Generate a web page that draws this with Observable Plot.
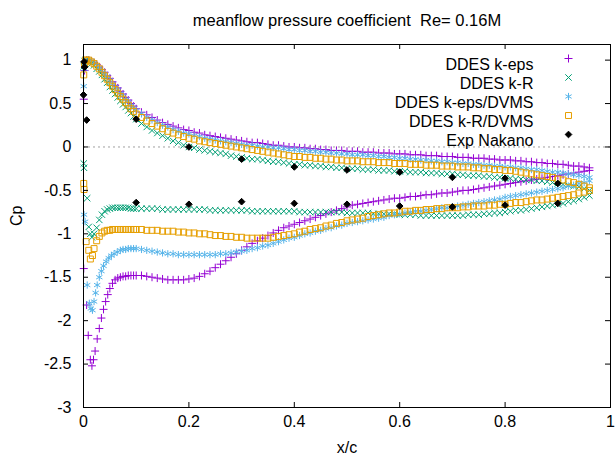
<!DOCTYPE html>
<html><head><meta charset="utf-8">
<script src="https://cdn.jsdelivr.net/npm/d3@7"></script>
<script src="https://cdn.jsdelivr.net/npm/@observablehq/plot@0.6"></script>
<style>body{margin:0;background:#fff} svg text{white-space:pre}</style>
</head><body><div id="chart"></div>
<script>
const title = "meanflow pressure coefficient  Re= 0.16M";
const seriesNames = ["DDES k-eps", "DDES k-R", "DDES k-eps/DVMS", "DDES k-R/DVMS", "Exp Nakano"];
const xTicks = [0, 0.2, 0.4, 0.6, 0.8, 1];
const yTicks = [-3, -2.5, -2, -1.5, -1, -0.5, 0, 0.5, 1];

const xMid = [0.10,0.11,0.12,0.13,0.14,0.15,0.16,0.17,0.18,0.19,
0.20,0.21,0.22,0.23,0.24,0.25,0.26,0.27,0.28,0.29,
0.30,0.31,0.32,0.33,0.34,0.35,0.36,0.37,0.38,0.39,
0.40,0.41,0.42,0.43,0.44,0.45,0.46,0.47,0.48,0.49,
0.50,0.51,0.52,0.53,0.54,0.55,0.56,0.57,0.58,0.59,
0.60,0.61,0.62,0.63,0.64,0.65,0.66,0.67,0.68,0.69,
0.70,0.71,0.72,0.73,0.74,0.75,0.76,0.77,0.78,0.79,
0.80,0.81,0.82,0.83,0.84,0.85,0.86,0.87,0.88,0.89,
0.90,0.91,0.92,0.93,0.94,0.95,0.96];
const xUpper = [0.006,0.01,0.015,0.02,0.025,0.03,0.035,0.04,0.045,0.05,0.055,0.06,0.065,0.07,0.075,0.08,0.085,0.09,0.095, ...xMid];
const xLower = [0.07,0.075,0.08,0.085,0.09,0.095, ...xMid];

// DDES k-eps
const kepsUpper = [1.00,1.00,0.99,0.97,0.95,0.92,0.89,0.86,0.82,0.79,0.75,0.71,0.68,0.64,0.61,0.57,0.54,0.50,0.47,
0.44,0.40,0.37,0.34,0.31,0.28,0.26,0.24,0.22,0.20,
0.19,0.17,0.16,0.14,0.13,0.12,0.11,0.10,0.09,0.08,
0.07,0.06,0.05,0.05,0.04,0.03,0.02,0.02,0.01,0.00,
0.00,-0.01,-0.01,-0.02,-0.02,-0.03,-0.03,-0.04,-0.04,-0.04,
-0.05,-0.05,-0.05,-0.06,-0.06,-0.06,-0.07,-0.07,-0.07,-0.08,
-0.08,-0.08,-0.09,-0.09,-0.09,-0.10,-0.10,-0.10,-0.11,-0.11,
-0.11,-0.12,-0.12,-0.12,-0.13,-0.13,-0.13,-0.14,-0.14,-0.15,
-0.15,-0.15,-0.16,-0.16,-0.17,-0.17,-0.18,-0.18,-0.19,-0.19,
-0.20,-0.20,-0.21,-0.22,-0.22,-0.23,-0.24];
const kepsLower = [-1.50,-1.49,-1.49,-1.48,-1.48,-1.48,
-1.48,-1.48,-1.49,-1.50,-1.51,-1.52,-1.53,-1.53,-1.53,-1.53,
-1.52,-1.51,-1.49,-1.46,-1.43,-1.39,-1.35,-1.31,-1.27,-1.23,
-1.19,-1.15,-1.11,-1.08,-1.05,-1.02,-0.99,-0.96,-0.93,-0.91,
-0.89,-0.87,-0.85,-0.83,-0.81,-0.79,-0.77,-0.75,-0.73,-0.71,
-0.69,-0.67,-0.66,-0.65,-0.64,-0.63,-0.62,-0.61,-0.60,-0.59,
-0.59,-0.58,-0.57,-0.57,-0.56,-0.55,-0.55,-0.54,-0.53,-0.53,
-0.52,-0.51,-0.50,-0.50,-0.49,-0.48,-0.47,-0.46,-0.45,-0.44,
-0.43,-0.42,-0.41,-0.40,-0.39,-0.38,-0.37,-0.36,-0.35,-0.34,
-0.33,-0.32,-0.31,-0.30,-0.29,-0.28,-0.27];
const kepsLEx = [0.0005,0.002,0.004,0.0005,0.006,0.009,0.013,0.016,0.019,0.022,0.026,0.030,0.034,0.038,0.042,0.046,0.050,0.055,0.060,0.065];
const kepsLEcp = [0.55,0.88,0.97,-1.40,-1.82,-2.17,-2.45,-2.52,-2.45,-2.35,-2.21,-2.09,-1.97,-1.87,-1.78,-1.70,-1.63,-1.57,-1.53,-1.51];

// DDES k-R
const kRUpper = [0.99,0.98,0.96,0.94,0.90,0.87,0.83,0.78,0.74,0.69,0.65,0.61,0.57,0.53,0.49,0.46,0.42,0.39,0.35,
0.32,0.27,0.23,0.19,0.16,0.13,0.10,0.07,0.05,0.02,
0.00,-0.01,-0.03,-0.04,-0.05,-0.06,-0.07,-0.08,-0.10,-0.11,
-0.12,-0.13,-0.14,-0.14,-0.15,-0.16,-0.17,-0.17,-0.18,-0.19,
-0.20,-0.20,-0.21,-0.21,-0.22,-0.22,-0.23,-0.23,-0.24,-0.24,
-0.25,-0.25,-0.25,-0.26,-0.26,-0.26,-0.27,-0.27,-0.27,-0.28,
-0.28,-0.28,-0.29,-0.29,-0.29,-0.30,-0.30,-0.30,-0.31,-0.31,
-0.31,-0.32,-0.32,-0.33,-0.33,-0.33,-0.34,-0.34,-0.35,-0.35,
-0.36,-0.36,-0.37,-0.37,-0.38,-0.38,-0.39,-0.39,-0.40,-0.41,
-0.42,-0.43,-0.44,-0.45,-0.46,-0.48,-0.50];
const kRLower = [-0.70,-0.70,-0.70,-0.70,-0.71,-0.71,
-0.71,-0.71,-0.71,-0.71,-0.71,-0.72,-0.72,-0.72,-0.72,-0.72,
-0.72,-0.72,-0.72,-0.72,-0.73,-0.73,-0.73,-0.73,-0.73,-0.73,
-0.73,-0.73,-0.74,-0.74,-0.74,-0.74,-0.74,-0.74,-0.74,-0.74,
-0.74,-0.75,-0.75,-0.75,-0.75,-0.75,-0.75,-0.75,-0.75,-0.75,
-0.76,-0.76,-0.76,-0.76,-0.76,-0.77,-0.77,-0.77,-0.77,-0.77,
-0.78,-0.78,-0.78,-0.78,-0.79,-0.79,-0.79,-0.79,-0.79,-0.79,
-0.79,-0.79,-0.79,-0.78,-0.78,-0.78,-0.77,-0.77,-0.76,-0.76,
-0.75,-0.74,-0.73,-0.73,-0.72,-0.71,-0.70,-0.69,-0.68,-0.67,
-0.66,-0.65,-0.63,-0.62,-0.60,-0.58,-0.56];
const kRLEx = [0.0005,0.002,0.004,0.0005,0.001,0.007,0.010,0.013,0.016,0.020,0.025,0.030,0.035,0.040,0.045,0.050,0.055,0.060,0.065];
const kRLEcp = [0.93,0.99,1.00,-0.19,-0.24,-0.59,-0.92,-1.00,-1.04,-1.00,-0.93,-0.84,-0.78,-0.74,-0.72,-0.71,-0.70,-0.70,-0.70];

// DDES k-eps/DVMS
const kepsDUpper = [1.00,1.00,0.99,0.97,0.94,0.91,0.88,0.84,0.81,0.77,0.73,0.69,0.66,0.62,0.59,0.55,0.52,0.48,0.45,
0.42,0.38,0.34,0.31,0.28,0.25,0.23,0.20,0.18,0.16,
0.15,0.13,0.12,0.10,0.09,0.08,0.07,0.06,0.05,0.04,
0.03,0.02,0.02,0.01,0.00,0.00,-0.01,-0.01,-0.02,-0.03,
-0.03,-0.04,-0.04,-0.05,-0.05,-0.06,-0.06,-0.07,-0.07,-0.08,
-0.08,-0.09,-0.09,-0.09,-0.10,-0.10,-0.11,-0.11,-0.12,-0.12,
-0.13,-0.13,-0.14,-0.14,-0.15,-0.15,-0.16,-0.16,-0.17,-0.17,
-0.18,-0.18,-0.19,-0.19,-0.20,-0.20,-0.21,-0.21,-0.22,-0.22,
-0.23,-0.23,-0.24,-0.24,-0.25,-0.26,-0.26,-0.27,-0.28,-0.29,
-0.29,-0.30,-0.31,-0.32,-0.33,-0.34,-0.35];
const kepsDLower = [-1.19,-1.18,-1.18,-1.17,-1.17,-1.17,
-1.17,-1.18,-1.19,-1.20,-1.21,-1.22,-1.23,-1.23,-1.24,-1.24,
-1.24,-1.24,-1.24,-1.24,-1.24,-1.24,-1.23,-1.23,-1.22,-1.21,
-1.20,-1.19,-1.17,-1.16,-1.14,-1.13,-1.11,-1.09,-1.07,-1.05,
-1.04,-1.02,-1.00,-0.99,-0.97,-0.96,-0.94,-0.93,-0.91,-0.90,
-0.88,-0.87,-0.86,-0.85,-0.84,-0.83,-0.82,-0.81,-0.79,-0.78,
-0.77,-0.76,-0.75,-0.74,-0.74,-0.73,-0.72,-0.71,-0.70,-0.70,
-0.69,-0.68,-0.67,-0.66,-0.65,-0.64,-0.63,-0.62,-0.61,-0.60,
-0.58,-0.57,-0.56,-0.55,-0.54,-0.53,-0.52,-0.51,-0.50,-0.49,
-0.48,-0.47,-0.45,-0.44,-0.42,-0.41,-0.39];
const kepsDLEx = [0.0005,0.002,0.004,0.001,0.003,0.007,0.011,0.014,0.017,0.020,0.023,0.026,0.030,0.034,0.038,0.043,0.048,0.053,0.058,0.064];
const kepsDLEcp = [0.70,0.90,0.98,-0.78,-0.86,-1.59,-1.80,-1.86,-1.88,-1.78,-1.68,-1.59,-1.50,-1.43,-1.37,-1.32,-1.28,-1.25,-1.23,-1.21];

// DDES k-R/DVMS
const kRDUpper = [1.00,1.00,0.98,0.96,0.93,0.90,0.86,0.82,0.78,0.74,0.70,0.66,0.62,0.58,0.55,0.51,0.48,0.44,0.41,
0.38,0.34,0.30,0.27,0.24,0.21,0.18,0.16,0.14,0.12,
0.10,0.09,0.07,0.06,0.05,0.04,0.03,0.02,0.01,0.00,
-0.01,-0.02,-0.03,-0.04,-0.05,-0.06,-0.07,-0.08,-0.09,-0.10,
-0.11,-0.11,-0.12,-0.12,-0.13,-0.13,-0.14,-0.14,-0.15,-0.15,
-0.16,-0.16,-0.16,-0.17,-0.17,-0.17,-0.18,-0.18,-0.18,-0.19,
-0.19,-0.19,-0.20,-0.20,-0.20,-0.21,-0.21,-0.21,-0.22,-0.22,
-0.22,-0.23,-0.23,-0.23,-0.24,-0.24,-0.25,-0.25,-0.26,-0.26,
-0.27,-0.27,-0.28,-0.29,-0.30,-0.31,-0.32,-0.33,-0.34,-0.35,
-0.37,-0.38,-0.40,-0.41,-0.43,-0.45,-0.47];
const kRDLower = [-0.95,-0.95,-0.95,-0.95,-0.95,-0.95,
-0.95,-0.95,-0.96,-0.96,-0.96,-0.97,-0.97,-0.97,-0.98,-0.98,
-0.99,-0.99,-1.00,-1.00,-1.01,-1.02,-1.02,-1.03,-1.03,-1.04,
-1.04,-1.05,-1.05,-1.05,-1.05,-1.05,-1.04,-1.03,-1.02,-1.01,
-1.00,-0.98,-0.97,-0.95,-0.94,-0.93,-0.91,-0.90,-0.88,-0.87,
-0.85,-0.84,-0.83,-0.82,-0.80,-0.79,-0.78,-0.77,-0.76,-0.76,
-0.75,-0.74,-0.74,-0.73,-0.73,-0.72,-0.72,-0.71,-0.71,-0.70,
-0.70,-0.70,-0.69,-0.69,-0.68,-0.68,-0.68,-0.67,-0.67,-0.66,
-0.66,-0.65,-0.64,-0.64,-0.63,-0.62,-0.61,-0.61,-0.60,-0.59,
-0.58,-0.57,-0.56,-0.55,-0.53,-0.52,-0.50];
const kRDLEx = [0.0005,0.002,0.004,0.0005,0.001,0.005,0.010,0.013,0.017,0.020,0.025,0.030,0.035,0.040,0.045,0.050,0.055,0.060,0.065];
const kRDLEcp = [0.83,0.95,1.00,-0.42,-0.49,-1.09,-1.19,-1.29,-1.25,-1.17,-1.08,-1.03,-0.99,-0.97,-0.96,-0.96,-0.95,-0.95,-0.95];

// Exp Nakano
const expX = [0, 0.001, 0.002, 0.006, 0.1,0.2,0.3,0.4,0.5,0.6,0.7,0.8,0.9, 0.1,0.2,0.3,0.4,0.5,0.6,0.7,0.8,0.9];
const expCp = [0.60, 0.98, 0.92, 0.31, 0.32,0.00,-0.14,-0.23,-0.265,-0.29,-0.35,-0.36,-0.42, -0.64,-0.66,-0.63,-0.65,-0.66,-0.68,-0.69,-0.67,-0.65];

function rows(pairs) {
  const out = [];
  for (const [xs, cps] of pairs) for (let i = 0; i < Math.min(xs.length, cps.length); i++) out.push({x: xs[i], cp: cps[i]});
  return out;
}

const styles = [
  {color: "#9400d3", symbol: "plus", r: 2.7, fill: "none"},
  {color: "#009e73", symbol: "times", r: 3.0, fill: "none"},
  {color: "#56b4e9", symbol: "asterisk", r: 3.4, fill: "none"},
  {color: "#e69f00", symbol: "square2", r: 3.8, fill: "none"},
  {color: "#000000", symbol: "diamond2", r: 3.0, fill: "#000000"}
];

const seriesData = [
  rows([[xUpper, kepsUpper], [xLower, kepsLower], [kepsLEx, kepsLEcp]]),
  rows([[xUpper, kRUpper], [xLower, kRLower], [kRLEx, kRLEcp]]),
  rows([[xUpper, kepsDUpper], [xLower, kepsDLower], [kepsDLEx, kepsDLEcp]]),
  rows([[xUpper, kRDUpper], [xLower, kRDLower], [kRDLEx, kRDLEcp]]),
  rows([[expX, expCp]])
];

const W = 615, H = 460, mL = 83, mR = 5, mT = 44, mB = 53;
const FW = W - mL - mR, FH = H - mT - mB;
const font = "'Liberation Sans', Arial, sans-serif";

const marks = [
  Plot.ruleY([0], {stroke: "#a0a0a0", strokeDasharray: "2,3"})
];
seriesData.forEach((d, i) => {
  const s = styles[i];
  marks.push(Plot.dot(d, {x: "x", y: "cp", symbol: s.symbol, r: s.r, stroke: s.color, fill: s.fill, strokeWidth: 1}));
});
marks.push(
  Plot.frame({stroke: "#000"}),
  Plot.tickX(xTicks, {x: d => d, insetTop: FH - 5, stroke: "#000"}),
  Plot.tickX(xTicks, {x: d => d, insetBottom: FH - 5, stroke: "#000"}),
  Plot.tickY(yTicks, {y: d => d, insetRight: FW - 5, stroke: "#000"}),
  Plot.tickY(yTicks, {y: d => d, insetLeft: FW - 5, stroke: "#000"}),
  Plot.axisX({ticks: xTicks, tickSize: 0, tickPadding: 8, tickFormat: d => String(d), label: null}),
  Plot.axisY({ticks: yTicks, tickSize: 0, tickPadding: 12, tickFormat: d => String(d), label: null}),
  Plot.text(["x/c"], {text: d => d, frameAnchor: "bottom", dy: 45}),
  Plot.text(["Cp"], {text: d => d, frameAnchor: "left", dx: -67, rotate: -90}),
  Plot.text([title], {text: d => d, frameAnchor: "top", dy: -30, fontSize: 16.5})
);
seriesNames.forEach((name, i) => {
  const s = styles[i];
  marks.push(Plot.text([name], {text: d => d, frameAnchor: "top-right", dx: -77, dy: 14 + 19 * i, textAnchor: "end"}));
  marks.push(Plot.dot([name], {frameAnchor: "top-right", dx: -42, dy: 14 + 19 * i, symbol: s.symbol, r: s.r, stroke: s.color, fill: s.fill, strokeWidth: 1}));
});

const chart = Plot.plot({
  width: W, height: H,
  marginLeft: mL, marginRight: mR, marginTop: mT, marginBottom: mB,
  style: {fontFamily: font, fontSize: "16px", background: "#fff", color: "#000"},
  x: {domain: [0, 1]},
  y: {domain: [-3, 1.18]},
  marks
});
document.getElementById("chart").appendChild(chart);
</script></body></html>
